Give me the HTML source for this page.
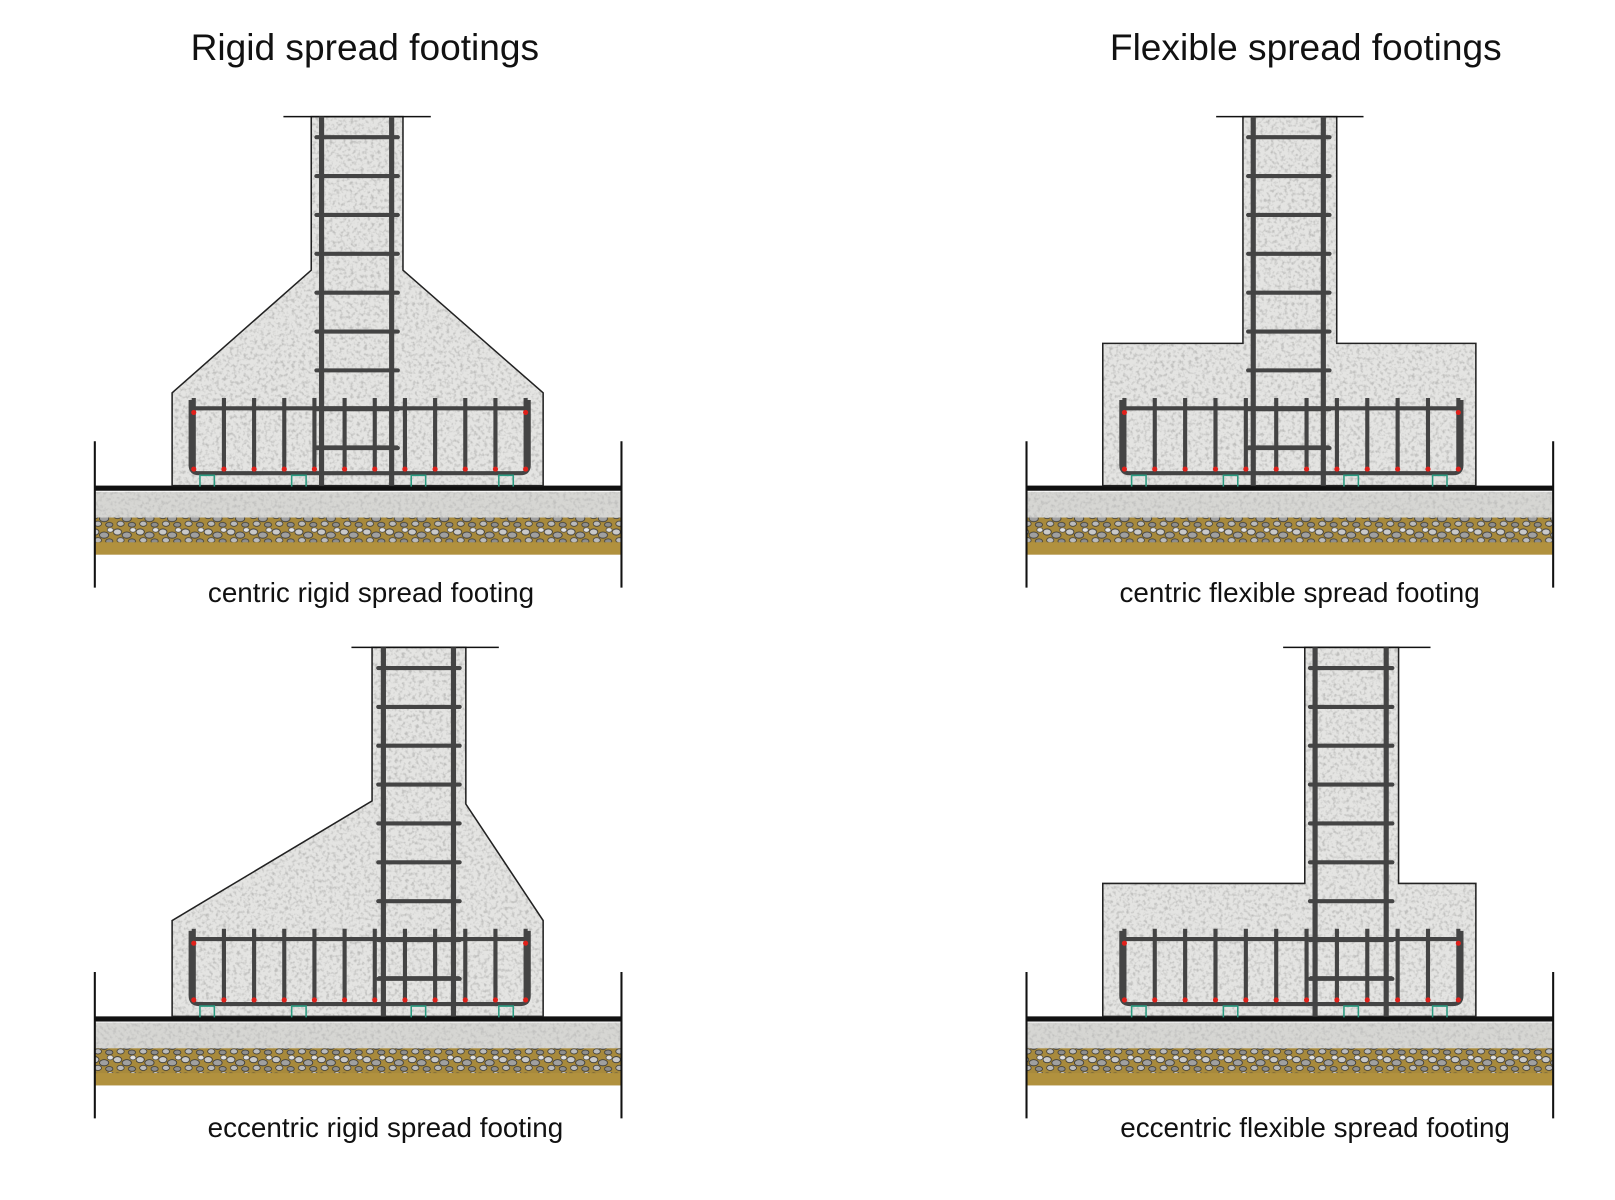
<!DOCTYPE html>
<html><head><meta charset="utf-8"><style>
html,body{margin:0;padding:0;background:#fff}
svg{display:block}
text{font-family:"Liberation Sans",Arial,sans-serif;fill:#111}
</style></head><body>
<svg id="s" width="1615" height="1200" viewBox="0 0 1567 1164" xmlns="http://www.w3.org/2000/svg">
<defs>
<filter id="conc" x="0" y="0" width="100%" height="100%">
<feTurbulence type="fractalNoise" baseFrequency="0.3" numOctaves="2" seed="3" result="n"/>
<feColorMatrix in="n" type="matrix" values="0 0 0 0 0.5  0 0 0 0 0.5  0 0 0 0 0.49  0 0 0 -3 1.6" result="m"/>
<feComposite in="m" in2="SourceGraphic" operator="in"/>
</filter>
<pattern id="grav" width="22" height="16" patternUnits="userSpaceOnUse">
<rect width="22" height="16" fill="#a88a3c"/>
<ellipse cx="4" cy="4" rx="4" ry="3" fill="#c9c9c9" stroke="#333" stroke-width="0.8"/>
<ellipse cx="13" cy="7" rx="4.5" ry="3" fill="#a0a0a0" stroke="#333" stroke-width="0.8"/>
<ellipse cx="19" cy="2" rx="3" ry="2.2" fill="#e0e0e0" stroke="#444" stroke-width="0.7"/>
<ellipse cx="7" cy="12" rx="3.5" ry="2.5" fill="#bbb" stroke="#333" stroke-width="0.7"/>
<ellipse cx="18" cy="13" rx="3.5" ry="2.3" fill="#8e8e8e" stroke="#333" stroke-width="0.7"/>
</pattern>
</defs>
<text x="354" y="58" font-size="36" text-anchor="middle">Rigid spread footings</text>
<text x="1267" y="58" font-size="36" text-anchor="middle">Flexible spread footings</text>
<text x="360" y="584" font-size="27" text-anchor="middle">centric rigid spread footing</text>
<text x="1261" y="584" font-size="27" text-anchor="middle">centric flexible spread footing</text>
<text x="374" y="1103" font-size="27" text-anchor="middle">eccentric rigid spread footing</text>
<text x="1276" y="1103" font-size="27" text-anchor="middle">eccentric flexible spread footing</text>
<g id="g"></g>
</svg>
<script>
var g=document.getElementById('g'),h='';
function ground(x0,x1,y){
 h+='<rect x="'+x0+'" y="'+(y+6)+'" width="'+(x1-x0)+'" height="61" fill="#d6d6d3"/>';
 h+='<rect x="'+x0+'" y="'+(y+6)+'" width="'+(x1-x0)+'" height="30" fill="#fff" filter="url(#conc)" opacity="0.8"/>';
 h+='<rect x="'+x0+'" y="'+(y+31)+'" width="'+(x1-x0)+'" height="26" fill="url(#grav)"/>';
 h+='<rect x="'+x0+'" y="'+(y+55)+'" width="'+(x1-x0)+'" height="12" fill="#b1913e"/>';
 h+='<rect x="'+x0+'" y="'+y+'" width="'+(x1-x0)+'" height="5" fill="#111"/>';
 h+='<line x1="'+x0+'" y1="'+(y-43)+'" x2="'+x0+'" y2="'+(y+99)+'" stroke="#111" stroke-width="2"/>';
 h+='<line x1="'+x1+'" y1="'+(y-43)+'" x2="'+x1+'" y2="'+(y+99)+'" stroke="#111" stroke-width="2"/>';
}
function body(pts){
 var p=pts.map(function(a){return a.join(',')}).join(' ');
 h+='<polygon points="'+p+'" fill="#e4e4e2"/>';
 h+='<polygon points="'+p+'" fill="#fff" filter="url(#conc)" opacity="0.9"/>';
 h+='<polygon points="'+p+'" fill="none" stroke="#222" stroke-width="1.5"/>';
}
function col(cx1,cx2,capL,capR,top,bot){
 h+='<line x1="'+capL+'" y1="'+top+'" x2="'+capR+'" y2="'+top+'" stroke="#111" stroke-width="1.5"/>';
 for(var k=0;k<10;k++){var yy=top+20+k*37.7;if(yy>bot-30)break;
  h+='<line x1="'+(cx1-5)+'" y1="'+yy+'" x2="'+(cx2+6)+'" y2="'+yy+'" stroke="#444" stroke-width="4" stroke-linecap="round"/>';}
 [cx1,cx2].forEach(function(x){h+='<line x1="'+x+'" y1="'+top+'" x2="'+x+'" y2="'+bot+'" stroke="#444" stroke-width="5"/>';});
}
function cage(x0,x1,yt,yb,chairs){
 var n=12,xs=[];for(var i=0;i<n;i++)xs.push(x0+3+i*(x1-x0-6)/(n-1));
 xs.forEach(function(x){h+='<line x1="'+x+'" y1="'+(yt-10)+'" x2="'+x+'" y2="'+yb+'" stroke="#444" stroke-width="4"/>';});
 h+='<path d="M'+x0+','+(yt-8)+' V'+(yb-8)+' Q'+x0+','+yb+' '+(x0+8)+','+yb+' H'+(x1-8)+' Q'+x1+','+yb+' '+x1+','+(yb-8)+' V'+(yt-8)+'" fill="none" stroke="#444" stroke-width="4"/>';
 h+='<line x1="'+(x0+3)+'" y1="'+yt+'" x2="'+(x1-3)+'" y2="'+yt+'" stroke="#444" stroke-width="4"/>';
 xs.forEach(function(x){h+='<circle cx="'+x+'" cy="'+(yb-4)+'" r="2.5" fill="#e0201a"/>';});
 h+='<circle cx="'+xs[0]+'" cy="'+(yt+4)+'" r="2.5" fill="#e0201a"/><circle cx="'+xs[n-1]+'" cy="'+(yt+4)+'" r="2.5" fill="#e0201a"/>';
 chairs.forEach(function(c){h+='<path d="M'+(c-7)+','+(yb+13)+' V'+(yb+2)+' H'+(c+7)+' V'+(yb+13)+'" fill="none" stroke="#2a9a80" stroke-width="1.5"/>';});
}
function mid(cx1,cx2,y1,y2){
 [y1,y2].forEach(function(y){h+='<line x1="'+(cx1-5)+'" y1="'+y+'" x2="'+(cx2+6)+'" y2="'+y+'" stroke="#444" stroke-width="4"/>';});
}
ground(92,603,471);
body([[302,113],[391,113],[391,262],[527,381],[527,471],[167,471],[167,381],[302,262]]);
cage(185,513,396,459,[201,290,406,491]);
col(312,380,275,418,113,471);mid(312,380,396,434);
ground(996,1507,471);
body([[1206,113],[1297,113],[1297,333],[1432,333],[1432,471],[1070,471],[1070,333],[1206,333]]);
cage(1088,1418,396,459,[1105,1194,1311,1397]);
col(1216,1284,1180,1323,113,471);mid(1216,1284,396,434);
ground(92,603,986);
body([[361,628],[452,628],[452,780],[527,893],[527,986],[167,986],[167,893],[361,777]]);
cage(185,513,911,974,[201,290,406,491]);
col(372,440,341,484,628,986);mid(372,440,911,949);
ground(996,1507,986);
body([[1266,628],[1357,628],[1357,857],[1432,857],[1432,986],[1070,986],[1070,857],[1266,857]]);
cage(1088,1418,911,974,[1105,1194,1311,1397]);
col(1276,1345,1245,1388,628,986);mid(1276,1345,911,949);
g.innerHTML=h;
</script>
</body></html>
